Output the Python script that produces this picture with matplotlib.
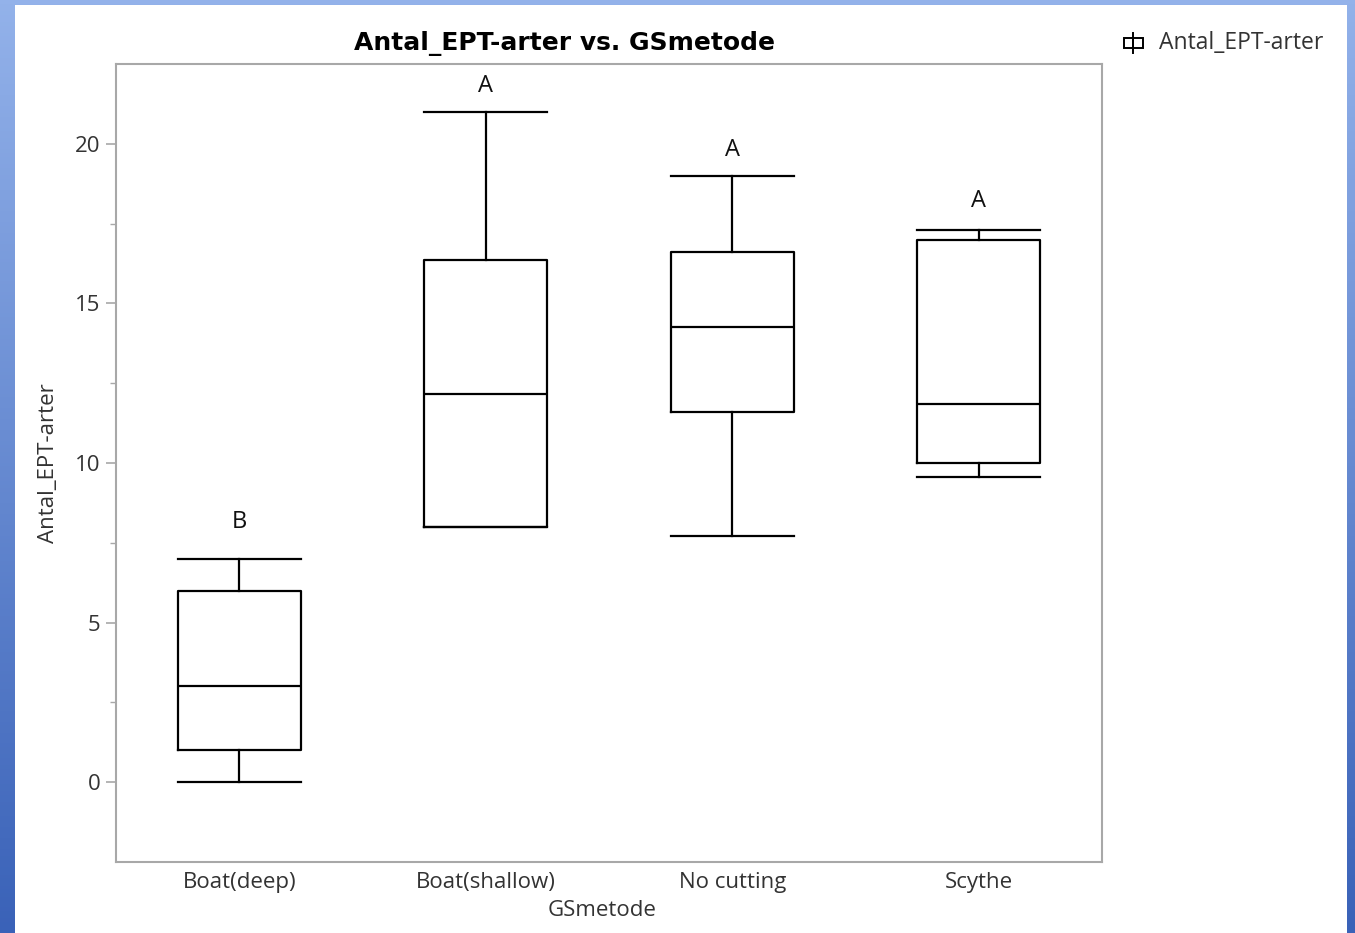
import numpy as np
import matplotlib
matplotlib.use("Agg")
import matplotlib.pyplot as plt
from matplotlib.patches import Rectangle
from matplotlib.lines import Line2D

categories = ["Boat(deep)", "Boat(shallow)", "No cutting", "Scythe"]
whisker_low = [0.0, 8.0, 7.7, 9.55]
q1 = [1.0, 8.0, 11.6, 10.0]
median = [3.0, 12.15, 14.27, 11.85]
q3 = [6.0, 16.37, 16.62, 17.0]
whisker_high = [7.0, 21.0, 19.0, 17.3]
letters = ["B", "A", "A", "A"]
letter_y = [8.15, 21.8, 19.8, 18.2]
y_ticks = [0, 5, 10, 15, 20]

W, H = 1355, 933
fig = plt.figure(figsize=(W / 100, H / 100), dpi=100)
plt.rcParams['font.family'] = ['Open Sans', 'DejaVu Sans']

# background gradient
bg = fig.add_axes([0, 0, 1, 1], zorder=-10)
bg.set_axis_off()
t = np.linspace(0, 1, 256)[:, None]
top = np.array([0x93, 0xb2, 0xea]) / 255
bot = np.array([0x3a, 0x62, 0xb8]) / 255
grad = top[None, None, :] * (1 - t[..., None]) + bot[None, None, :] * t[..., None]
grad = np.repeat(grad, 4, axis=1)
bg.imshow(grad, aspect='auto', extent=[0, 1, 0, 1], origin='upper')
bg.add_patch(Rectangle((15 / W, 0), (1347 - 15) / W, (H - 5) / H,
                       facecolor='white', edgecolor='none', transform=bg.transAxes))
bg.set_xlim(0, 1)
bg.set_ylim(0, 1)

ax = fig.add_axes([116 / W, 1 - 862 / H, (1102 - 116) / W, (862 - 64) / H])
ax.set_facecolor('white')

stats = []
for i, c in enumerate(categories):
    stats.append(dict(label=c, whislo=whisker_low[i], q1=q1[i], med=median[i],
                      q3=q3[i], whishi=whisker_high[i], fliers=[]))
pos = np.arange(len(categories))
lw = 1.6
ax.bxp(stats, positions=pos, widths=0.5, capwidths=0.5, showfliers=False,
       boxprops=dict(color='black', linewidth=lw),
       whiskerprops=dict(color='black', linewidth=lw),
       capprops=dict(color='black', linewidth=lw),
       medianprops=dict(color='black', linewidth=lw))

for i, l in enumerate(letters):
    ax.text(pos[i], letter_y[i], l, ha='center', va='center',
            fontsize=17, color='#111111')

ax.set_xlim(-0.5, 3.5)
ax.set_ylim(-2.5, 22.5)
ax.set_yticks(y_ticks)
ax.set_yticks([2.5, 7.5, 12.5, 17.5], minor=True)
ax.set_xticks(pos)
ax.set_xticklabels(categories)
for s in ax.spines.values():
    s.set_color('#a8a8a8')
    s.set_linewidth(1.5)
ax.tick_params(axis='y', which='major', length=7, width=1.2, color='#a8a8a8',
               labelsize=16, labelcolor='#333333', pad=4)
ax.tick_params(axis='y', which='minor', length=4, width=1.0, color='#a8a8a8')
ax.tick_params(axis='x', length=0, labelsize=16, labelcolor='#333333', pad=7)
ax.set_ylabel("Antal_EPT-arter", fontsize=16, color='#333333', labelpad=12)
ax.set_xlabel("GSmetode", fontsize=16, color='#333333')
ax.xaxis.label.set_va('center')
ax.xaxis.set_label_coords((602 - 116) / 986, -(911 - 862) / 798)

fig.text(565 / W, 1 - 43 / H, "Antal_EPT-arter vs. GSmetode", ha='center', va='center',
         fontsize=18, fontweight='bold', color='black', family='DejaVu Sans')

# legend glyph
bg.add_line(Line2D([1133 / W, 1133 / W], [1 - 33 / H, 1 - 53 / H], color='black', lw=1.4,
                   transform=bg.transAxes))
bg.add_patch(Rectangle((1124 / W, 1 - 48 / H), 19 / W, 10 / H, facecolor='white',
                       edgecolor='black', lw=1.4, transform=bg.transAxes))
bg.add_line(Line2D([1133 / W, 1133 / W], [1 - 38 / H, 1 - 48 / H], color='black', lw=1.4,
                   transform=bg.transAxes))
fig.text(1159 / W, 1 - 43 / H, "Antal_EPT-arter", ha='left', va='center',
         fontsize=16.5, color='#333333')

fig.savefig("out.png", dpi=100)
